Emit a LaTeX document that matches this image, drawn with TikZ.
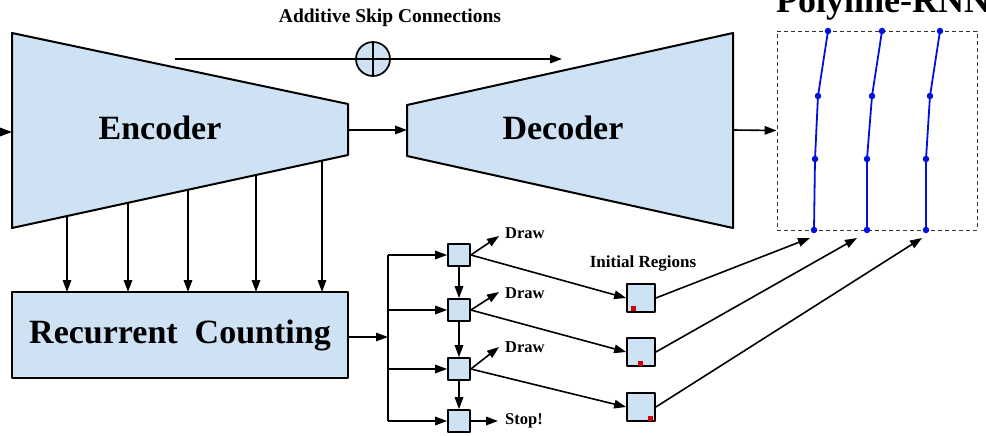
\documentclass[tikz,border=0pt]{standalone}
\usepackage{fontspec}
\setmainfont{Liberation Serif}
\usetikzlibrary{arrows.meta,calc}
\definecolor{lblue}{HTML}{CFE2F3}
\definecolor{pblue}{HTML}{0010DD}
\definecolor{rdot}{HTML}{CC0011}
\tikzset{
  arr/.style={line width=1.6pt,-{Triangle[length=12pt,width=8.5pt]}},
  shapeb/.style={draw=black,line width=2pt,fill=lblue,line join=round},
  sq/.style={shapeb,line width=1.7pt,minimum size=22pt,inner sep=0pt},
  reg/.style={shapeb,line width=1.7pt,minimum size=28pt,inner sep=0pt},
  big/.style={font=\fontsize{34}{36}\selectfont\bfseries},
  lbl/.style={font=\fontsize{16.5}{18}\selectfont\bfseries,inner sep=0pt},
  poly/.style={pblue,line width=1.8pt},
  pdot/.style={circle,fill=pblue,inner sep=0pt,minimum size=6.5pt},
  rsq/.style={fill=rdot,inner sep=0pt,minimum size=5pt},
}
\begin{document}
\begin{tikzpicture}[x=1pt,y=-1pt]
\useasboundingbox (0,0) rectangle (986,436);
% encoder
\coordinate (etl) at (12,33); \coordinate (etr) at (348,104);
\coordinate (ebr) at (348,155); \coordinate (ebl) at (12,228);
\draw[shapeb] (etl) -- (etr) -- (ebr) -- (ebl) -- cycle;
\node[big] (enc) at (160,128) {Encoder};
% decoder
\coordinate (dtl) at (407,105); \coordinate (dtr) at (733,33);
\coordinate (dbr) at (733,228); \coordinate (dbl) at (407,156);
\draw[shapeb] (dtl) -- (dtr) -- (dbr) -- (dbl) -- cycle;
\node[big] (dec) at (563,128) {Decoder};
% input arrow
\coordinate (inp) at (-20,132);
\coordinate (encin) at (12,132);
\draw[arr] (inp) -- (encin);
% encoder -> decoder
\coordinate (eo) at (348,130); \coordinate (di) at (407,130);
\draw[arr] (eo) -- (di);
% skip connection
\coordinate (s0) at (175,59); \coordinate (s1) at (562,59);
\node[circle,draw,line width=1.7pt,fill=lblue,minimum size=34pt,inner sep=0pt] (plus) at (373,59) {};
\draw[arr] (s0) -- (s1);
\draw[line width=1.7pt] (plus.north) -- (plus.south);
\node[font=\fontsize{19.5}{21}\selectfont\bfseries] (skiplbl) at (390,18) {Additive Skip Connections};
% polyline box
\node[draw=black!80,line width=0.9pt,minimum width=200pt,minimum height=199pt,inner sep=0pt,dash pattern=on 4pt off 3pt] (pbox) at (877,130.5) {};
\coordinate (do) at (733,130);
\draw[arr] (do) -- (pbox.west);
\node[font=\fontsize{36}{38}\selectfont\bfseries,anchor=base west,inner sep=0pt] (ptitle) at (776,13) {Polyline-RNN};
% polylines
\foreach \a/\b/\c/\d [count=\i] in {814/815/818/828,867/867/872/882,926/926/930/940}{
  \coordinate (p\i a) at (\a,230);
  \coordinate (p\i b) at (\b,159);
  \coordinate (p\i c) at (\c,96);
  \coordinate (p\i d) at (\d,31);
  \draw[poly] (p\i a) -- (p\i b) -- (p\i c) -- (p\i d);
  \foreach \p in {a,b,c,d} \node[pdot] at (p\i\p) {};
}
% recurrent counting
\node[shapeb,minimum width=336pt,minimum height=86pt,inner sep=0pt,big] (rc) at (180,335) {Recurrent\ \ Counting};
\foreach \x/\y in {67/216,128/203,188/190,256/175,322/161}{
  \coordinate (et\x) at (\x,\y);
  \coordinate (rt\x) at (\x,292);
  \draw[arr] (et\x) -- (rt\x);
}
% branch
\coordinate (br) at (388,337);
\coordinate (bt) at (388,255); \coordinate (bb) at (388,421);
\draw[arr] (rc.east |- br) -- (br);
\draw[line width=1.6pt] (bt) -- (bb);
\foreach \y [count=\i] in {255,310,369,421}{
  \node[sq] (q\i) at (459,\y) {};
  \coordinate (b\i) at (388,\y);
  \draw[arr] (b\i) -- (q\i.west);
}
\draw[arr] (q1) -- (q2); \draw[arr] (q2) -- (q3); \draw[arr] (q3) -- (q4);
% draw labels
\node[lbl,anchor=west] (d1) at (505,233) {Draw};
\node[lbl,anchor=west] (d2) at (505,293) {Draw};
\node[lbl,anchor=west] (d3) at (505,347) {Draw};
\node[lbl,anchor=west] (stop) at (505,421) {Stop!};
\coordinate (d1t) at (499,236); \coordinate (d2t) at (499,292); \coordinate (d3t) at (499,347);
\coordinate (st) at (498,421);
\draw[arr] (q1.east) -- (d1t);
\draw[arr] (q2.east) -- (d2t);
\draw[arr] (q3.east) -- (d3t);
\draw[arr] (q4.east) -- (st);
% initial regions
\node[font=\fontsize{17}{19}\selectfont\bfseries] (irl) at (643,263) {Initial Regions};
\node[reg] (r1) at (641,298) {};
\node[reg] (r2) at (641,352) {};
\node[reg] (r3) at (641,407) {};
\node[rsq] (rd1) at (633,308.5) {};
\node[rsq] (rd2) at (640,363) {};
\node[rsq] (rd3) at (650,418.5) {};
\draw[arr] (q1.east) -- (r1.west);
\draw[arr] (q2.east) -- (r2.west);
\draw[arr] (q3.east) -- (r3.west);
\coordinate (t1) at (810,238); \coordinate (t2) at (857,238); \coordinate (t3) at (922,238);
\draw[arr] (r1.east) -- (t1);
\draw[arr] (r2.east) -- (t2);
\draw[arr] (r3.east) -- (t3);
\end{tikzpicture}
\end{document}
